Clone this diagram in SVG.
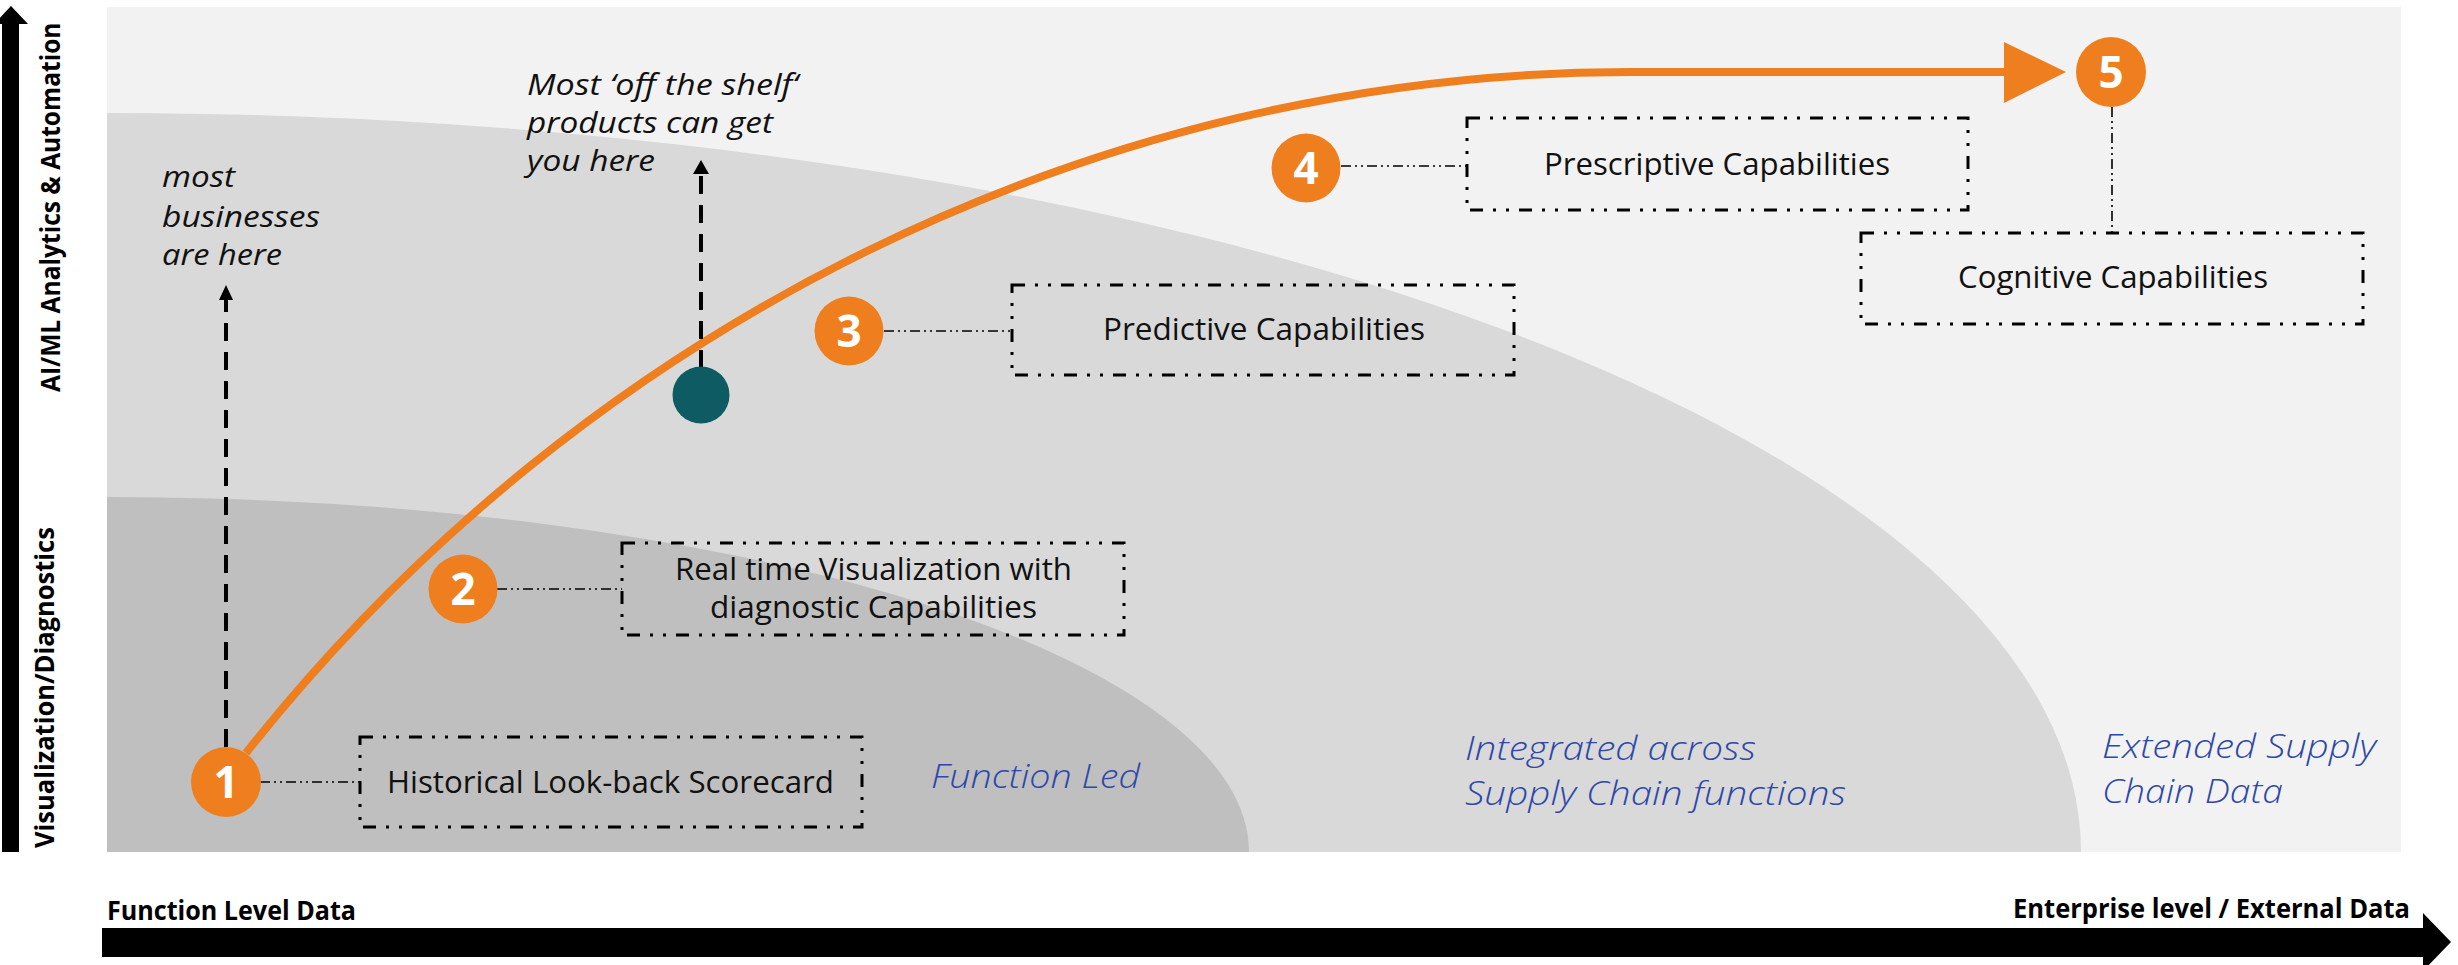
<svg xmlns="http://www.w3.org/2000/svg" width="2458" height="965" viewBox="0 0 2458 965">
<defs>
<style>
.box{fill:none;stroke:#000;stroke-width:3;stroke-dasharray:13 10 3 10 3 10}
.lnk{fill:none;stroke:#000;stroke-width:1.6;stroke-dasharray:10 4 2 4 2 4}
.bt{font-family:"Open Sans","Noto Sans",sans-serif;font-size:31px;fill:#111}
.it{font-family:"Open Sans","Noto Sans",sans-serif;font-size:29px;font-style:italic;fill:#111}
.bl{font-family:"Open Sans","Noto Sans",sans-serif;font-size:33px;font-style:italic;font-weight:300;fill:#2d48a8}
.ax{font-family:"Open Sans","Noto Sans",sans-serif;font-size:26px;font-weight:bold;fill:#000}
.vx{font-family:"Open Sans","DejaVu Sans",sans-serif;font-size:27px;font-weight:bold;fill:#000}
.num circle{fill:#ef7f1e}
.num text{font-family:"Open Sans","Noto Sans",sans-serif;font-size:44px;font-weight:bold;fill:#fff;text-anchor:middle}
.dash{fill:none;stroke:#000;stroke-width:4;stroke-dasharray:18 11}
</style>
</defs>
<rect width="2458" height="965" fill="#fff"/>
<!-- background zones -->
<g id="zones">
<rect x="107" y="7" width="2294" height="845" fill="#f2f2f2"/>
<path d="M107,852 L107,113 A1974,739 0 0 1 2081,852 Z" fill="#d9d9d9"/>
<path d="M107,852 L107,497 A1142,355 0 0 1 1249,852 Z" fill="#bfbfbf"/>
</g>
<!-- axes -->
<g id="y-axis">
<rect x="2" y="22" width="17" height="830" fill="#000"/>
<polygon points="-6,24 11,6 28,24" fill="#000"/>
<text class="vx" transform="translate(60,392) rotate(-90) scale(0.91,1)">AI/ML Analytics &amp; Automation</text>
<text class="vx" transform="translate(54,848) rotate(-90) scale(0.945,1)">Visualization/Diagnostics</text>
</g>
<g id="x-axis">
<rect x="102" y="928" width="2322" height="29" fill="#000"/>
<polygon points="2423,913 2451,942 2423,971" fill="#000"/>
<text class="ax" x="107" y="920" textLength="249" lengthAdjust="spacingAndGlyphs">Function Level Data</text>
<text class="ax" x="2013" y="918" textLength="397" lengthAdjust="spacingAndGlyphs">Enterprise level / External Data</text>
</g>
<!-- zone labels -->
<g id="zone-labels">
<text class="bl" x="931" y="788" textLength="209" lengthAdjust="spacingAndGlyphs">Function Led</text>
<text class="bl" x="1465" y="760" textLength="291" lengthAdjust="spacingAndGlyphs">Integrated across</text>
<text class="bl" x="1465" y="805" textLength="381" lengthAdjust="spacingAndGlyphs">Supply Chain functions</text>
<text class="bl" x="2102" y="758" textLength="274" lengthAdjust="spacingAndGlyphs">Extended Supply</text>
<text class="bl" x="2102" y="803" textLength="181" lengthAdjust="spacingAndGlyphs">Chain Data</text>
</g>
<!-- connectors -->
<g id="connectors">
<path d="M246,753 C586,323 1100,72 1630,72 L2006,72" fill="none" stroke="#ef7f1e" stroke-width="8"/>
<polygon points="2004,42 2066,72 2004,103" fill="#ef7f1e"/>
<line class="dash" x1="226" y1="747" x2="226" y2="298"/>
<polygon points="219,300 226,285 233,300" fill="#000"/>
<line class="dash" x1="701" y1="368" x2="701" y2="172"/>
<polygon points="693,174 701,160 709,174" fill="#000"/>
<line class="lnk" x1="260" y1="782" x2="360" y2="782"/>
<line class="lnk" x1="497" y1="589" x2="622" y2="589"/>
<line class="lnk" x1="884" y1="331" x2="1012" y2="331"/>
<line class="lnk" x1="1341" y1="166" x2="1467" y2="166"/>
<line class="lnk" x1="2112" y1="107" x2="2112" y2="233"/>
</g>
<!-- annotations -->
<g id="note-businesses">
<text class="it" x="162" y="187" textLength="73" lengthAdjust="spacingAndGlyphs">most</text>
<text class="it" x="162" y="227" textLength="158" lengthAdjust="spacingAndGlyphs">businesses</text>
<text class="it" x="162" y="265" textLength="120" lengthAdjust="spacingAndGlyphs">are here</text>
</g>
<g id="note-products">
<text class="it" x="527" y="95" textLength="271" lengthAdjust="spacingAndGlyphs">Most ‘off the shelf‘</text>
<text class="it" x="527" y="133" textLength="246" lengthAdjust="spacingAndGlyphs">products can get</text>
<text class="it" x="527" y="171" textLength="128" lengthAdjust="spacingAndGlyphs">you here</text>
</g>
<g id="teal-dot"><circle cx="701" cy="395" r="28.5" fill="#0e5b63"/></g>
<!-- boxes -->
<g id="box1">
<rect class="box" x="360" y="737" width="502" height="90"/>
<text class="bt" x="387" y="793" textLength="447" lengthAdjust="spacingAndGlyphs">Historical Look-back Scorecard</text>
</g>
<g id="box2">
<rect class="box" x="622" y="543" width="502" height="92"/>
<text class="bt" x="675" y="580" textLength="397" lengthAdjust="spacingAndGlyphs">Real time Visualization with</text>
<text class="bt" x="710" y="618" textLength="327" lengthAdjust="spacingAndGlyphs">diagnostic Capabilities</text>
</g>
<g id="box3">
<rect class="box" x="1012" y="285" width="502" height="90"/>
<text class="bt" x="1103" y="340" textLength="322" lengthAdjust="spacingAndGlyphs">Predictive Capabilities</text>
</g>
<g id="box4">
<rect class="box" x="1467" y="118" width="501" height="92"/>
<text class="bt" x="1544" y="175" textLength="346" lengthAdjust="spacingAndGlyphs">Prescriptive Capabilities</text>
</g>
<g id="box5">
<rect class="box" x="1861" y="233" width="502" height="91"/>
<text class="bt" x="1958" y="288" textLength="310" lengthAdjust="spacingAndGlyphs">Cognitive Capabilities</text>
</g>
<!-- numbered markers -->
<g id="n1" class="num"><circle cx="226" cy="782" r="35"/><text x="226" y="798">1</text></g>
<g id="n2" class="num"><circle cx="463" cy="589" r="34.5"/><text x="463" y="605">2</text></g>
<g id="n3" class="num"><circle cx="849" cy="331" r="34.5"/><text x="849" y="347">3</text></g>
<g id="n4" class="num"><circle cx="1306" cy="168" r="34.5"/><text x="1306" y="184">4</text></g>
<g id="n5" class="num"><circle cx="2111" cy="72" r="35"/><text x="2111" y="88">5</text></g>
</svg>
